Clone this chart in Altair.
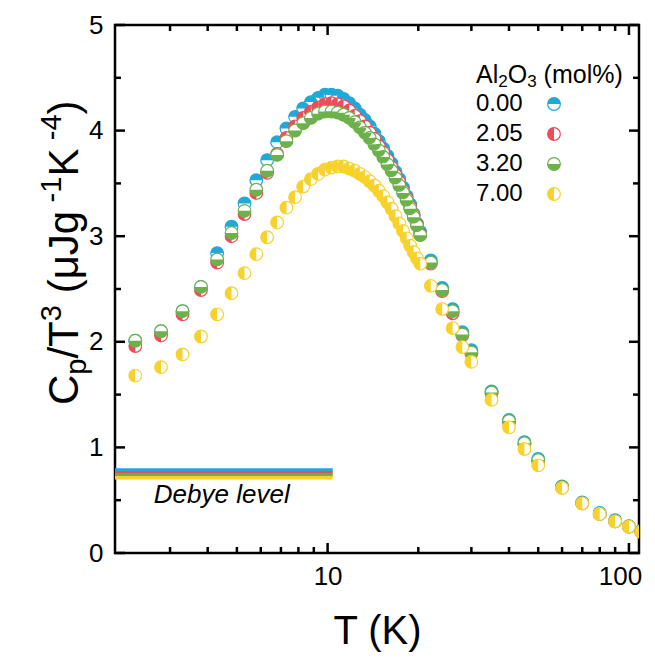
import altair as alt
import pandas as pd

# ---------------- data ----------------
T = [2.3, 2.8, 3.3, 3.8, 4.3, 4.8, 5.3, 5.8, 6.3, 6.8, 7.3, 7.8, 8.3, 8.8, 9.3, 9.8,
     10.3, 10.8, 11.3, 11.8, 12.3, 12.8, 13.3, 13.8, 14.3, 14.8, 15.3, 15.8, 16.3,
     16.8, 17.3, 17.8, 18.3, 18.8, 19.3, 19.8, 20.3,
     22, 24, 26, 28, 30, 35, 40, 45, 50, 60, 70, 80, 90, 100, 110]

cp_000 = [2.01, 2.10, 2.29, 2.52, 2.84, 3.09, 3.31, 3.53, 3.72, 3.89, 4.02, 4.13, 4.21,
          4.27, 4.31, 4.34, 4.34, 4.33, 4.30, 4.26, 4.21, 4.15, 4.10, 4.04, 3.97, 3.90,
          3.83, 3.76, 3.69, 3.61, 3.54, 3.46, 3.38, 3.30, 3.21, 3.12, 3.04,
          2.77, 2.51, 2.31, 2.09, 1.92, 1.53, 1.26, 1.05, 0.89, 0.63, 0.48, 0.38, 0.31,
          0.255, 0.21]
cp_205 = [1.96, 2.06, 2.26, 2.49, 2.75, 3.00, 3.21, 3.41, 3.60, 3.78, 3.93, 4.04, 4.12,
          4.18, 4.22, 4.25, 4.26, 4.25, 4.23, 4.19, 4.14, 4.09, 4.04, 3.98, 3.92, 3.85,
          3.79, 3.72, 3.65, 3.58, 3.51, 3.43, 3.36, 3.28, 3.20, 3.11, 3.02,
          2.74, 2.48, 2.27, 2.06, 1.89, 1.51, 1.24, 1.03, 0.87, 0.62, 0.47, 0.37, 0.30,
          0.25, 0.20]
cp_320 = [2.01, 2.10, 2.29, 2.52, 2.78, 3.03, 3.24, 3.44, 3.62, 3.77, 3.90, 4.00, 4.07,
          4.12, 4.16, 4.18, 4.18, 4.17, 4.15, 4.12, 4.08, 4.03, 3.98, 3.93, 3.87, 3.81,
          3.75, 3.68, 3.62, 3.55, 3.48, 3.41, 3.34, 3.26, 3.18, 3.10, 3.01,
          2.75, 2.49, 2.29, 2.07, 1.90, 1.52, 1.25, 1.04, 0.88, 0.625, 0.47, 0.37, 0.30,
          0.25, 0.20]
cp_700 = [1.68, 1.76, 1.88, 2.05, 2.26, 2.46, 2.65, 2.83, 2.99, 3.13, 3.27, 3.37, 3.47,
          3.54, 3.59, 3.63, 3.65, 3.66, 3.66, 3.64, 3.62, 3.59, 3.56, 3.52, 3.48, 3.43,
          3.38, 3.32, 3.26, 3.19, 3.12, 3.05, 2.98, 2.91, 2.85, 2.79, 2.74,
          2.53, 2.31, 2.13, 1.95, 1.81, 1.45, 1.19, 0.985, 0.83, 0.615, 0.47, 0.37, 0.30,
          0.25, 0.20]

series_names = ["0.00", "2.05", "3.20", "7.00"]
series_values = [cp_000, cp_205, cp_320, cp_700]
series_colors = ["#1FA9D9", "#EF4C5B", "#6CB14B", "#F7D22C"]
series_halves = ["top", "left", "bottom", "left"]

debye_levels = [0.785, 0.760, 0.738, 0.712]
debye_T_range = [1.97, 10.4]
debye_label = "Debye level"
debye_label_pos = [2.65, 0.47]

y_major = [0, 1, 2, 3, 4, 5]
y_minor = [0.5, 1.5, 2.5, 3.5, 4.5]
x_major = [10, 100]
x_minor = [3, 4, 5, 6, 7, 8, 9, 20, 30, 40, 50, 60, 70, 80, 90]

# rich-text pieces: (text, kind, gap in em before the piece)
y_title_parts = [("C", "n", 0), ("p", "sub", 0), ("/T", "n", 0), ("3", "sup", 0),
                 ("(μJg", "n", 0.28), ("-1", "sup", 0.2), ("K", "n", 0),
                 ("-4", "sup", 0.2), (")", "n", 0)]
legend_title_parts = [("Al", "n", 0), ("2", "sub", 0), ("O", "n", 0), ("3", "sub", 0),
                      ("(mol%)", "n", 0.28)]
x_title = "T (K)"

# ---------------- layout ----------------
W, H = 524, 528
FONT = "Liberation Sans"
half_paths = {
    "top": "M -1 0 A 1 1 0 0 1 1 0 Z",
    "bottom": "M -1 0 A 1 1 0 0 0 1 0 Z",
    "left": "M 0 -1 A 1 1 0 0 0 0 1 Z",
}
MSIZE = 160
EM = {'C': .722, 'p': .556, '/': .278, 'T': .611, '3': .556, ' ': .278,
      '(': .333, 'μ': .576, 'J': .5, 'g': .556, '-': .333, '1': .556, 'K': .667,
      '4': .556, ')': .333, 'A': .667, 'l': .222, '2': .556, 'O': .778, 'm': .833,
      'o': .556, '%': .889}


def text_width(s, size):
    return sum(EM.get(c, 0.556) for c in s) * size


xs = alt.Scale(type="log", domain=[1.97, 108], nice=False)
ys = alt.Scale(domain=[0, 5], nice=False)

x_axis = alt.Axis(values=x_major, format="~g", title=x_title, grid=False, domain=False,
                  ticks=False, tickSize=0, labelFont=FONT, labelFontSize=26,
                  labelPadding=10, labelColor="black",
                  labelOffset={"condition": {"test": "datum.value >= 100", "value": -9},
                               "value": 0},
                  titleFont=FONT, titleFontSize=40, titleFontWeight="normal",
                  titleColor="black", titleY=78, titleBaseline="middle")
y_axis = alt.Axis(values=y_major, format="d", title=None, grid=False,
                  domain=False, ticks=False, tickSize=0, labelFont=FONT,
                  labelFontSize=26, labelPadding=12, labelColor="black")


def XF(field):
    return alt.X(f"{field}:Q", scale=xs, axis=x_axis)


def YF(field):
    return alt.Y(f"{field}:Q", scale=ys, axis=y_axis)


layers = []


# ticks (inward), drawn through the scales
def yticks(vals, length):
    d = pd.DataFrame({"v": vals})
    left = alt.Chart(d).mark_rule(color="black", strokeWidth=2.5).encode(
        y=YF("v"), x=alt.value(0), x2=alt.value(length))
    right = alt.Chart(d).mark_rule(color="black", strokeWidth=2.5).encode(
        y=YF("v"), x=alt.value(W - length), x2=alt.value(W))
    return [left, right]


def xticks(vals, length):
    d = pd.DataFrame({"v": vals})
    bottom = alt.Chart(d).mark_rule(color="black", strokeWidth=2.5).encode(
        x=XF("v"), y=alt.value(H), y2=alt.value(H - length))
    top = alt.Chart(d).mark_rule(color="black", strokeWidth=2.5).encode(
        x=XF("v"), y=alt.value(0), y2=alt.value(length))
    return [bottom, top]


layers += yticks(y_major, 10) + yticks(y_minor, 6)
layers += xticks(x_major, 10) + xticks(x_minor, 6)

# Debye level lines
debye_df = pd.DataFrame({
    "series": series_names,
    "level": debye_levels,
    "t0": [debye_T_range[0]] * 4,
    "t1": [debye_T_range[1]] * 4,
})
for name, col in zip(series_names, series_colors):
    layers.append(
        alt.Chart(debye_df).transform_filter(alt.datum.series == name)
        .mark_rule(color=col, strokeWidth=3.5, strokeCap="butt", clip=True)
        .encode(x=XF("t0"), x2="t1:Q", y=YF("level"))
    )

layers.append(
    alt.Chart(pd.DataFrame({"t": [debye_label_pos[0]], "v": [debye_label_pos[1]],
                            "txt": [debye_label]}))
    .mark_text(font=FONT, fontSize=26, fontStyle="italic", align="left",
               baseline="alphabetic", color="black")
    .encode(x=XF("t"), y=YF("v"), text="txt:N")
)

# data points: white circle with coloured rim + coloured half
for name, vals, col, half in zip(series_names, series_values, series_colors, series_halves):
    d = pd.DataFrame({"T": T, "cp": vals, "series": name})
    rim = alt.Chart(d).mark_point(shape="circle", filled=True, fill="white",
                                  stroke=col, strokeWidth=1.2, size=MSIZE,
                                  opacity=1, clip=True).encode(x=XF("T"), y=YF("cp"))
    fill = alt.Chart(d).mark_point(shape=half_paths[half], filled=True, fill=col,
                                   strokeWidth=0, size=MSIZE, opacity=1,
                                   clip=True).encode(x=XF("T"), y=YF("cp"))
    layers += [rim, fill]

one = pd.DataFrame({"a": [0]})

# y-axis title as rotated rich text (reads bottom to top)
YT_MAIN, YT_SMALL = 42, 29
YT_BASE_X = -37          # baseline of the normal text, relative to the plot's left edge
YT_START_Y = 380         # where the title starts (bottom end)
cursor = YT_START_Y
for txt, kind, gap in y_title_parts:
    size = YT_MAIN if kind == "n" else YT_SMALL
    cursor -= gap * YT_MAIN
    bx = YT_BASE_X + (-17 if kind == "sup" else (8 if kind == "sub" else 0))
    layers.append(
        alt.Chart(one).mark_text(font=FONT, fontSize=size, angle=270, align="left",
                                 baseline="alphabetic", color="black", text=txt)
        .encode(x=alt.value(bx), y=alt.value(cursor))
    )
    cursor -= text_width(txt, size)

# legend (symbols to the right of the labels)
LEG_LABEL_X = 361
LEG_SYM_X = 439
LEG_TITLE_BASE = 58
LEG_ROW0_Y = 79
LEG_STEP = 30
LT_MAIN, LT_SMALL = 25, 17
cursor = LEG_LABEL_X
for txt, kind, gap in legend_title_parts:
    size = LT_MAIN if kind == "n" else LT_SMALL
    cursor += gap * LT_MAIN
    by = LEG_TITLE_BASE + (4 if kind == "sub" else 0)
    layers.append(
        alt.Chart(one).mark_text(font=FONT, fontSize=size, align="left",
                                 baseline="alphabetic", color="black", text=txt)
        .encode(x=alt.value(cursor), y=alt.value(by))
    )
    cursor += text_width(txt, size)

for i, (name, col, half) in enumerate(zip(series_names, series_colors, series_halves)):
    yy = LEG_ROW0_Y + i * LEG_STEP
    layers.append(
        alt.Chart(one).mark_text(font=FONT, fontSize=24, align="left",
                                 baseline="middle", color="black", text=name)
        .encode(x=alt.value(LEG_LABEL_X), y=alt.value(yy))
    )
    layers.append(
        alt.Chart(one).mark_point(shape="circle", filled=True, fill="white", stroke=col,
                                  strokeWidth=1.2, size=MSIZE, opacity=1)
        .encode(x=alt.value(LEG_SYM_X), y=alt.value(yy))
    )
    layers.append(
        alt.Chart(one).mark_point(shape=half_paths[half], filled=True, fill=col,
                                  strokeWidth=0, size=MSIZE, opacity=1)
        .encode(x=alt.value(LEG_SYM_X), y=alt.value(yy))
    )

chart = alt.layer(*layers).properties(
    width=W, height=H,
    padding={"left": 107, "top": 17, "right": 8, "bottom": 100},
    autosize=alt.AutoSizeParams(type="none"),
    background="white",
).configure_view(stroke="black", strokeWidth=2.5)

chart.save("out.html", embed_options={"renderer": "svg", "actions": False})
